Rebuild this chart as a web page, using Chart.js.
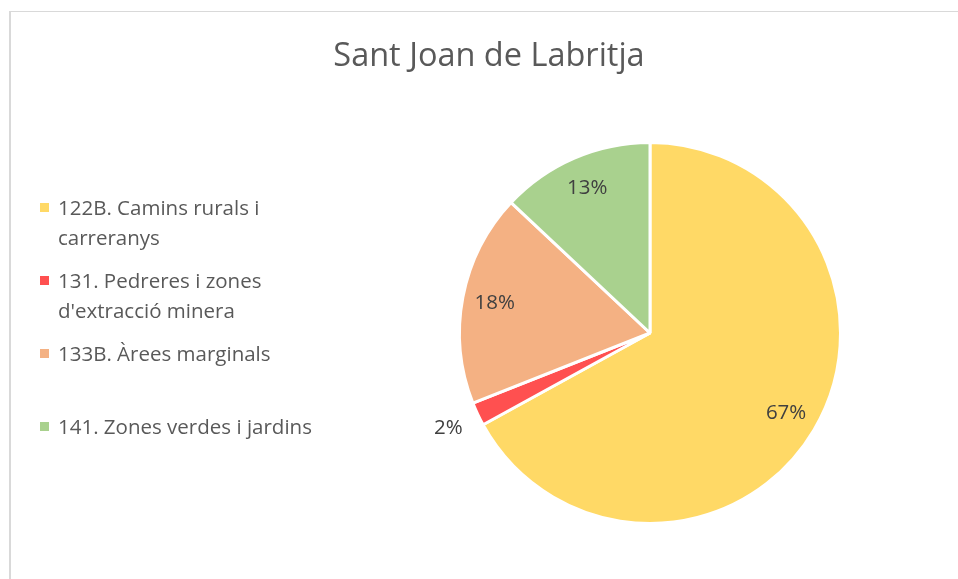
<!DOCTYPE html>
<html>
<head>
<meta charset="utf-8">
<script src="https://cdn.jsdelivr.net/npm/chart.js@4/dist/chart.umd.min.js"></script>
<style>
  body { margin: 0; background: #fff; font-family: "Open Sans", sans-serif; }
  #marc { position: absolute; left: 9px; top: 11px; width: 970px; height: 600px;
          border-top: 1px solid #d9d9d9; border-left: 2px solid #d9d9d9; box-sizing: border-box; }
  #titol { position: absolute; left: 0; width: 978px; top: 32px; text-align: center;
           font-size: 32.5px; line-height: 44px; color: #595959; }
  #llegenda { position: absolute; left: 40px; top: 192px; }
  .item { position: relative; height: 73px; font-size: 20.5px; line-height: 30px; color: #595959; padding-left: 18px; }
  .item span { position: absolute; left: 0; top: 11px; width: 9px; height: 9px; }
  #grafic { position: absolute; left: 0; top: 0; }
</style>
</head>
<body>
<div id="marc"></div>
<canvas id="grafic" width="958" height="579"></canvas>
<div id="titol">Sant Joan de Labritja</div>
<div id="llegenda"></div>
<script>
// Dades
const categories = [
  ["122B. Camins rurals i", "carreranys"],
  ["131. Pedreres i zones", "d'extracció minera"],
  ["133B. Àrees marginals"],
  ["141. Zones verdes i jardins"]
];
const percentatges = [67, 2, 18, 13];
const colors = ["#FFD966", "#FF5050", "#F4B183", "#A9D18E"];

// Llegenda a mà (Chart.js no parteix les línies)
const llegenda = document.querySelector("#llegenda");
categories.forEach((linies, i) => {
  const div = document.createElement("div");
  div.className = "item";
  div.innerHTML = '<span style="background:' + colors[i] + '"></span>' + linies.join("<br>");
  llegenda.appendChild(div);
});

// Etiquetes de percentatge, com les d'Excel
const etiquetes = {
  id: "etiquetes",
  afterDatasetsDraw(chart) {
    const ctx = chart.ctx;
    const arcs = chart.getDatasetMeta(0).data;
    ctx.save();
    ctx.font = "20.5px 'Open Sans'";
    ctx.fillStyle = "#404040";
    ctx.textAlign = "center";
    ctx.textBaseline = "middle";
    arcs.forEach((arc, i) => {
      const mig = (arc.startAngle + arc.endAngle) / 2;
      // la llesca petita porta l'etiqueta a fora
      const f = percentatges[i] < 5 ? 1.17 : 0.83;
      const x = arc.x + Math.cos(mig) * arc.outerRadius * f;
      const y = arc.y + Math.sin(mig) * arc.outerRadius * f;
      ctx.fillText(percentatges[i] + "%", x, y);
    });
    ctx.restore();
  }
};

new Chart(document.querySelector("#grafic"), {
  type: "pie",
  data: {
    labels: categories.map(l => l.join(" ")),
    datasets: [{
      data: percentatges,
      backgroundColor: colors,
      borderColor: "#ffffff",
      borderWidth: 3
    }]
  },
  options: {
    responsive: false,
    animation: false,
    layout: { padding: { left: 458, right: 116, top: 141, bottom: 54 } },
    plugins: {
      legend: { display: false },
      tooltip: { enabled: false }
    }
  },
  plugins: [etiquetes]
});
</script>
</body>
</html>
